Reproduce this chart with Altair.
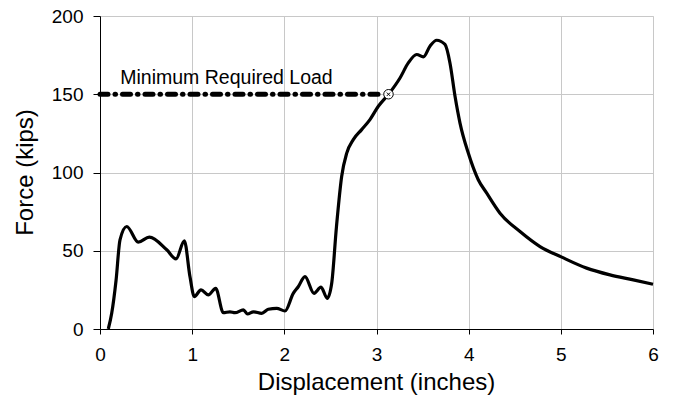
import altair as alt
import pandas as pd

# Force-displacement curve
disp = [0.09, 0.127, 0.174, 0.217, 0.29, 0.415, 0.535, 0.724, 0.825, 0.915, 0.976,
        1.023, 1.096, 1.175, 1.255, 1.338, 1.41, 1.465, 1.555, 1.6, 1.665, 1.754,
        1.826, 1.917, 2.007, 2.097, 2.151, 2.224, 2.322, 2.398, 2.466, 2.514, 2.565,
        2.622, 2.677, 2.748, 2.839, 2.929, 3.02, 3.128, 3.255, 3.345, 3.436, 3.508,
        3.58, 3.653, 3.743, 3.797, 3.852, 3.906, 3.996, 4.104, 4.196, 4.34, 4.557,
        4.774, 5.01, 5.28, 5.533, 5.786, 6.0]
force = [0, 10, 31, 57, 65.5, 55.5, 58.7, 50.6, 44.8, 56.3, 33.5,
         20.7, 25, 21.8, 26, 10.4, 11, 10.4, 12.2, 9.6, 11, 10,
         12.6, 13.2, 11.5, 22.8, 27, 33.5, 22.8, 26.7, 19.6, 29.2, 65,
         97.5, 112.4, 121, 127.4, 133.8, 142.3, 149.8, 160.4, 170, 175.4, 173.9,
         180.7, 184.5, 181.8, 170, 148.7, 131.6, 112.4, 95.4, 86.8, 74, 62.3,
         52.7, 45.9, 38.9, 34.6, 31.4, 28.6]

# Minimum required load line
min_load_x = [0.0, 3.05]
min_load_y = [150, 150]
marker_x = [3.13]
marker_y = [150]
label_text = ["Minimum Required Load"]
label_x = [0.22]
label_y = [160.5]

x_ticks = [0, 1, 2, 3, 4, 5, 6]
y_ticks = [0, 50, 100, 150, 200]

curve_df = pd.DataFrame({"d": disp, "f": force})
min_df = pd.DataFrame({"d": min_load_x, "f": min_load_y})
mark_df = pd.DataFrame({"d": marker_x, "f": marker_y})
lab_df = pd.DataFrame({"d": label_x, "f": label_y, "t": label_text})

FONT = "Liberation Sans"

xscale = alt.Scale(domain=[0, 6], nice=False)
yscale = alt.Scale(domain=[0, 200], nice=False)

xaxis = alt.Axis(values=x_ticks, format="d", title="Displacement (inches)",
                 grid=True, gridColor="#c8c8c8", gridWidth=1,
                 domainColor="#000000", domainWidth=1,
                 ticks=True, tickColor="#000000", tickSize=5, tickWidth=1,
                 tickOpacity=1, labelFlush=False,
                 labelFontSize=19, labelFont=FONT, labelColor="#000000",
                 labelPadding=11,
                 titleFont=FONT, titleFontSize=24, titleFontWeight="normal",
                 titleColor="#000000", titleX=276, titleY=53,
                 titleBaseline="middle", titleAlign="center")
yaxis = alt.Axis(values=y_ticks, format="d", title="Force (kips)", grid=True,
                 gridColor="#c8c8c8", gridWidth=1,
                 domainColor="#000000", domainWidth=1,
                 ticks=True, tickColor="#000000", tickSize=7, tickWidth=1,
                 tickOpacity=1, labelFlush=False,
                 labelFontSize=19, labelFont=FONT, labelColor="#000000",
                 labelPadding=10, labelAlign="right", labelBaseline="middle",
                 titleFont=FONT, titleFontSize=24, titleFontWeight="normal",
                 titleColor="#000000", titleX=-75, titleY=156,
                 titleBaseline="middle", titleAlign="center", titleAngle=-90)

curve = alt.Chart(curve_df).mark_line(color="black", strokeWidth=3.2,
                                      interpolate="monotone").encode(
    x=alt.X("d:Q", scale=xscale, axis=xaxis),
    y=alt.Y("f:Q", scale=yscale, axis=yaxis),
)

minline = alt.Chart(min_df).mark_line(color="black", strokeWidth=5,
                                      strokeDash=[8, 7, 0.5, 7],
                                      strokeCap="round").encode(
    x=alt.X("d:Q", scale=xscale),
    y=alt.Y("f:Q", scale=yscale),
)

circle = alt.Chart(mark_df).mark_point(shape="circle", size=90, filled=True,
                                       fill="white", stroke="black",
                                       strokeWidth=1, opacity=1).encode(
    x=alt.X("d:Q", scale=xscale),
    y=alt.Y("f:Q", scale=yscale),
)
cross = alt.Chart(mark_df).mark_point(
    shape="M-0.5,-0.5L0.5,0.5M-0.5,0.5L0.5,-0.5", size=45, filled=False,
    stroke="black", strokeWidth=1, opacity=1).encode(
    x=alt.X("d:Q", scale=xscale),
    y=alt.Y("f:Q", scale=yscale),
)

label = alt.Chart(lab_df).mark_text(align="left", baseline="middle",
                                    font=FONT, fontSize=19.5,
                                    color="black").encode(
    x=alt.X("d:Q", scale=xscale),
    y=alt.Y("f:Q", scale=yscale),
    text="t:N",
)

chart = alt.layer(curve, minline, circle, cross, label).properties(
    width=553, height=313,
    padding={"left": 92, "top": 8, "right": 17, "bottom": 67},
    autosize=alt.AutoSizeParams(type="none"),
).configure_view(
    stroke="#808080", strokeWidth=1.5
).configure(background="white")

chart.save("out.html", embed_options={"renderer": "svg", "actions": False})
